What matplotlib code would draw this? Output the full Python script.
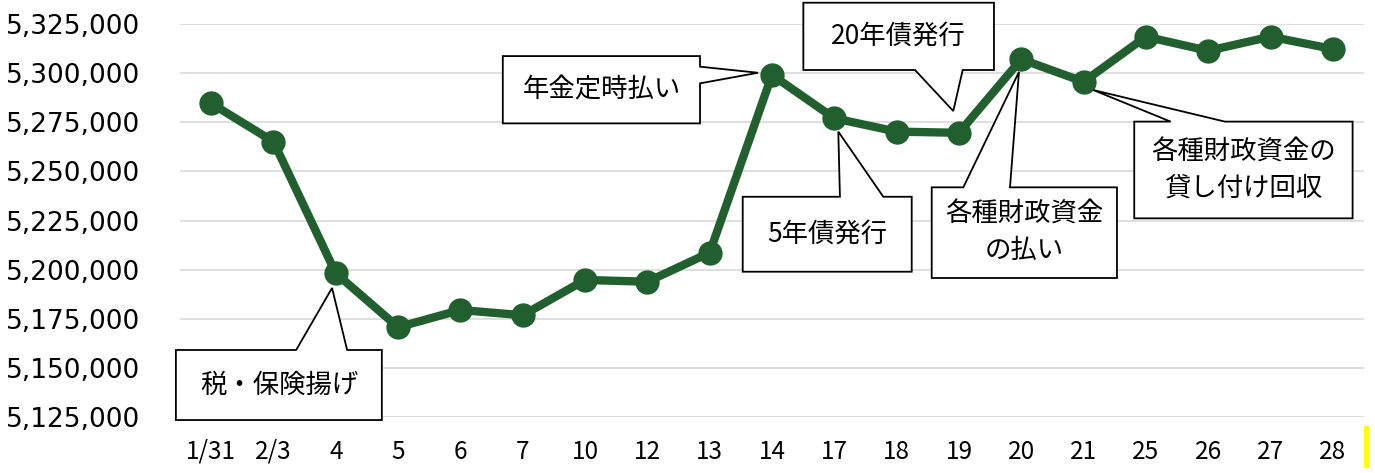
import matplotlib
matplotlib.use("Agg")
import matplotlib.pyplot as plt
from matplotlib.patches import Polygon
from matplotlib.lines import Line2D
from matplotlib.ticker import FuncFormatter

# data
dates = ["1/31", "2/3", "4", "5", "6", "7", "10", "12", "13", "14",
         "17", "18", "19", "20", "21", "25", "26", "27", "28"]
balance = [5284700, 5265200, 5198100, 5170600, 5179400, 5176700, 5194700,
           5193800, 5208600, 5299200, 5277100, 5270300, 5269700, 5307200,
           5295700, 5318700, 5311500, 5318700, 5312400]

y_ticks = list(range(5125000, 5325001, 25000))

# callouts: text, box (x0, x1, ybottom, ytop), side of wedge, wedge base, tip
callouts = [
    ("税・保険揚げ", (-0.566, 2.739, 5123300, 5159000), "top", (1.364, 2.182), (1.94, 5190600)),
    ("年金定時払い", (4.68, 7.845, 5274500, 5308800), "right", (5294900, 5303400), (8.776, 5300300)),
    ("5年債発行", (8.53, 11.242, 5198900, 5237100), "top", (10.09, 10.786), (10.064, 5270300)),
    ("各種財政資金\nの払い", (11.563, 14.536, 5195700, 5241900), "top", (12.07, 12.819), (12.963, 5300700)),
    ("20年債発行", (9.503, 12.562, 5301700, 5336000), "bottom", (11.295, 12.06), (11.909, 5280800)),
    ("各種財政資金の\n貸し付け回収", (14.813, 18.317, 5226100, 5275400), "top", (15.397, 16.268), (14.155, 5291500)),
]

green = "#215F2F"
jp_font = ["Noto Sans CJK JP", "DejaVu Sans"]


def callout_shape(box, side, base, tip):
    x0, x1, yb, yt = box
    if side == "top":
        return [(x0, yt), (base[0], yt), tip, (base[1], yt), (x1, yt), (x1, yb), (x0, yb)]
    if side == "bottom":
        return [(x0, yt), (x1, yt), (x1, yb), (base[1], yb), tip, (base[0], yb), (x0, yb)]
    # right
    return [(x0, yt), (x1, yt), (x1, base[1]), tip, (x1, base[0]), (x1, yb), (x0, yb)]


def main():
    fig = plt.figure(figsize=(13.75, 4.73), dpi=100)
    ax = fig.add_axes([180 / 1375, 1 - 416.7 / 473, 1184 / 1375, (416.7 - 24.3) / 473])

    x = list(range(len(dates)))
    ax.plot(x, balance, color=green, lw=6, marker="o", ms=16.5, zorder=3)

    ax.set_xlim(-0.5, len(dates) - 0.5)
    ax.set_ylim(5125000, 5325000)
    ax.set_yticks(y_ticks)
    ax.yaxis.set_major_formatter(FuncFormatter(lambda v, p: f"{int(v):,}"))
    ax.set_xticks(x)
    ax.set_xticklabels(dates, family=jp_font, fontsize=17.5)
    for lab in ax.get_yticklabels():
        lab.set_family("DejaVu Sans")
        lab.set_fontsize(19)
    ax.tick_params(axis="both", length=0)
    ax.tick_params(axis="y", pad=29)
    ax.tick_params(axis="x", pad=16)
    ax.grid(axis="y", color="#D9D9D9", lw=1.2)
    ax.set_axisbelow(True)
    for s in ax.spines.values():
        s.set_visible(False)

    for text, box, side, base, tip in callouts:
        pts = callout_shape(box, side, base, tip)
        ax.add_patch(Polygon(pts, closed=True, facecolor="white", edgecolor="black",
                             lw=1.3, zorder=5, clip_on=False))
        cx = (box[0] + box[1]) / 2
        cy = (box[2] + box[3]) / 2
        ax.text(cx, cy, text, ha="center", va="center", family=jp_font,
                fontsize=19, linespacing=1.45, zorder=6, clip_on=False)

    fig.add_artist(Line2D([1366 / 1375] * 2, [1 - 428 / 473, 1 - 465 / 473],
                          color="#FFFF00", lw=3.5))

    plt.savefig("out.png", dpi=100)


if __name__ == "__main__":
    main()
